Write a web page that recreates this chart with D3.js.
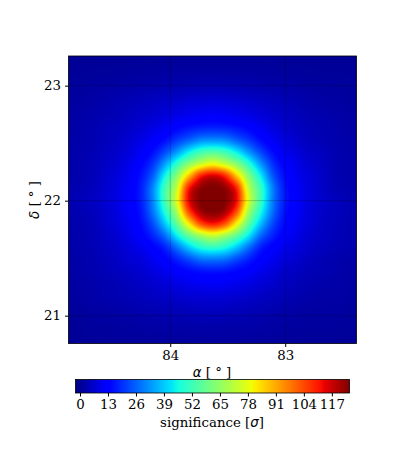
<!DOCTYPE html>
<html>
<head>
<meta charset="utf-8">
<script src="https://cdn.jsdelivr.net/npm/d3@7"></script>
<style>
  body { margin: 0; background: #fff; }
  text { font-family: "DejaVu Serif", serif; fill: #000; }
  .gridline line { stroke: #000; stroke-opacity: 0.25; stroke-width: 0.8; }
</style>
</head>
<body>
<script>
// significance, one row per 12px step, top row first
var sigma = [
  [0.3,0.4,0.5,0.5,0.5,0.6,0.6,0.7,0.7,0.7,0.8,0.8,0.8,0.8,0.8,0.7,0.7,0.7,0.6,0.5,0.5,0.5,0.4,0.3,0.3],
  [0.5,0.6,0.7,0.8,0.9,1,1.1,1.2,1.3,1.3,1.4,1.4,1.4,1.4,1.3,1.3,1.2,1.1,1,0.9,0.8,0.7,0.6,0.6,0.5],
  [0.8,1,1.2,1.3,1.5,1.7,2,2.2,2.4,2.6,2.8,3,3,2.9,2.7,2.5,2.3,2,1.8,1.5,1.3,1.2,1.1,0.9,0.8],
  [1.1,1.4,1.8,2.2,2.6,3,3.4,3.8,4.1,4.4,4.8,5,5.2,5,4.7,4.3,3.9,3.5,3,2.5,2,1.6,1.5,1.2,1],
  [1.5,1.8,2.2,2.8,3.5,4,4.8,5.5,6.2,7,8,8.2,8.5,8.2,7.8,6.8,6,5.2,4.4,3.6,2.9,2.3,1.9,1.6,1.3],
  [1.9,2.2,2.8,3.5,4,5,5.8,7,8,9.5,10.5,11.5,12,11.5,10.5,9.5,8,6.8,5.5,4.5,3.6,3,2.5,2,1.7],
  [2,2.6,3.3,4.2,5,5.8,7.2,8.8,11,13.7,16,17.5,18,17.5,16,13.7,11,8.6,6.8,5.2,4.2,3.5,3,2.3,1.9],
  [2.2,2.7,3.4,4.5,5.5,7,9,11.5,15,20.5,25.5,30.5,31.5,30.5,25.5,20.5,15,11,8.5,6.5,4.8,3.8,3.2,2.5,2],
  [2.4,3,3.7,5,6.2,8,11,15,22.5,32.5,43.5,51.5,54.5,51.5,43.5,32.5,22.5,15,10.5,8,6,5,3.5,2.8,2.2],
  [2.5,3.2,4,5.5,7,9.5,13.5,20,33,49,63,73,79,73,63,49,33,20,13,9.5,7,5.5,3.7,3,2.3],
  [2.6,3.2,4.2,6,8,10.5,15.5,25,44,63,87,109,115.5,109,87,63,44,25,15,10.5,8,6,3.8,3,2.4],
  [2.9,3.6,4.6,6.4,8.4,11.6,17,30,51.5,72,109,123,125.5,123,109,72,51.5,30,16.5,11.5,8.2,6.3,4,3.2,2.5],
  [3.4,4.2,5.2,6.8,8.8,12,17,30,52,76,113,125,126,125,113,76,52,30,17,12,8.5,6.5,5,4,3.2],
  [2.9,3.6,4.6,6.4,8.4,11.6,16,28,46.5,68,103,121,124.5,121,103,68,46.5,28,16,11.5,8.2,6.3,5,4,3.2],
  [2.7,3.3,4.2,6,8,10.5,14.5,23,38,57,81,103,110.5,103,81,57,38,23,14.5,10.5,8,6,4.8,3.8,3],
  [2.5,3.2,4,5.5,7,9.5,12.5,18,27,43,57,67,73,67,57,43,27,18,12.5,9.5,7,5.5,4.5,3.7,3],
  [2.3,3,3.7,5,6.2,8,10,13,17.5,27.5,38.5,46.5,49.5,46.5,38.5,27.5,17.5,13,10,8,6.2,5,4,3.5,2.8],
  [2,2.7,3.4,4.5,5.5,7,8,10.5,13,17.5,22.5,27.5,28.5,27.5,22.5,17.5,13,10.5,8,6.5,5,3.8,3.2,2.5,2],
  [1.8,2.5,3.2,4,4.8,5.6,6.8,8.2,10,12.3,14,15.5,16,15.5,14,12.3,10,8,6.2,5,4,3.5,3,2.3,1.8],
  [1.6,2.1,2.7,3.3,3.8,4.7,5.5,6.6,7.6,9,10,10.9,11.4,10.9,10,9,7.6,6.4,5,4.2,3.4,2.8,2.4,2,1.7],
  [1.3,1.9,2.4,3,3.5,4,4.6,5.3,5.9,6.6,7.4,7.6,7.8,7.6,7.2,6.4,5.6,4.8,4,3.2,2.6,2.3,2.1,1.8,1.5],
  [1,1.4,1.9,2.2,2.6,3,3.4,3.8,4.2,4.6,5,5.3,5.5,5.2,4.9,4.4,4,3.4,2.9,2.3,1.9,1.7,1.7,1.5,1.2],
  [0.7,1,1.4,1.6,1.8,2,2.3,2.6,2.9,3.2,3.4,3.6,3.6,3.5,3.3,3.1,2.8,2.4,2,1.7,1.4,1.4,1.4,1.2,1],
  [0.5,0.7,1,1.1,1.2,1.4,1.6,1.7,1.9,2,2,2.1,2.1,2.1,2,2,1.8,1.6,1.4,1.2,1,1,1,0.9,0.8],
  [0.3,0.5,0.7,0.8,0.9,1,1.1,1.2,1.3,1.3,1.4,1.4,1.4,1.4,1.4,1.3,1.2,1.1,1,0.8,0.7,0.7,0.7,0.6,0.5]
];
var raTicks = [84, 83];
var decTicks = [23, 22, 21];
var raExtent = [84.885, 82.38];
var decExtent = [23.258, 20.758];
var sigmaExtent = [-2.1, 125.2];
var sigmaTicks = [0, 13, 26, 39, 52, 65, 78, 91, 104, 117];

var w = 415;
var h = 467;
var fontSize = "13.33px";
var svg = d3.select("body").append("svg")
  .attr("width", w).attr("height", h)
  .style("display", "block");

var left = 68.5, right = 356.5, top_ = 56, bottom = 343.5;
var x = d3.scaleLinear().domain(raExtent).range([left, right]);
var y = d3.scaleLinear().domain(decExtent).range([top_, bottom]);

// matplotlib jet
var red = d3.scaleLinear().domain([0, .35, .66, .89, 1]).range([0, 0, 1, 1, .5]).clamp(true);
var green = d3.scaleLinear().domain([0, .125, .375, .64, .91, 1]).range([0, 0, 1, 1, 0, 0]).clamp(true);
var blue = d3.scaleLinear().domain([0, .11, .34, .65, 1]).range([.5, 1, 1, 0, 0]).clamp(true);
var norm = d3.scaleLinear().domain(sigmaExtent).range([0, 1]).clamp(true);
function jet(v) {
  var t = norm(v);
  return [red(t) * 255, green(t) * 255, blue(t) * 255];
}

// bicubic display of the grid, like imshow interpolation
function cubic(a, b, c, d, t) {
  return b + 0.5 * t * (c - a + t * (2 * a - 5 * b + 4 * c - d + t * (3 * (b - c) + d - a)));
}
var nRows = sigma.length, nCols = sigma[0].length;
function cell(r, c) {
  return sigma[Math.max(0, Math.min(nRows - 1, r))][Math.max(0, Math.min(nCols - 1, c))];
}
function sample(r, c) {
  var r0 = Math.floor(r), c0 = Math.floor(c);
  var tr = r - r0, tc = c - c0;
  var rows = [-1, 0, 1, 2].map(function(k) {
    return cubic(cell(r0 + k, c0 - 1), cell(r0 + k, c0), cell(r0 + k, c0 + 1), cell(r0 + k, c0 + 2), tc);
  });
  return cubic(rows[0], rows[1], rows[2], rows[3], tr);
}

// paint width x height pixels from a value function, return as data url
function paint(pw, ph, valueAt) {
  var canvas = document.createElement("canvas");
  canvas.width = pw;
  canvas.height = ph;
  var ctx = canvas.getContext("2d");
  var img = ctx.createImageData(pw, ph);
  for (var py = 0; py < ph; py++) {
    for (var px = 0; px < pw; px++) {
      var col = jet(valueAt(px, py));
      var i = (py * pw + px) * 4;
      img.data[i] = col[0];
      img.data[i + 1] = col[1];
      img.data[i + 2] = col[2];
      img.data[i + 3] = 255;
    }
  }
  ctx.putImageData(img, 0, 0);
  return canvas.toDataURL();
}

var pw = Math.round(right - left), ph = Math.round(bottom - top_);
var colIdx = d3.scaleLinear().domain([0, pw]).range([0, nCols - 1]);
var rowIdx = d3.scaleLinear().domain([0, ph]).range([0, nRows - 1]);

svg.append("image")
  .attr("x", left).attr("y", top_)
  .attr("width", right - left).attr("height", bottom - top_)
  .attr("preserveAspectRatio", "none")
  .attr("href", paint(pw, ph, function(px, py) {
    return sample(rowIdx(py + .5), colIdx(px + .5));
  }));

// faint grid lines
svg.append("g").attr("class", "gridline")
  .selectAll("line").data(raTicks).enter().append("line")
  .attr("x1", function(d) { return x(d); })
  .attr("x2", function(d) { return x(d); })
  .attr("y1", top_).attr("y2", bottom);
svg.append("g").attr("class", "gridline")
  .selectAll("line").data(decTicks).enter().append("line")
  .attr("y1", function(d) { return y(d); })
  .attr("y2", function(d) { return y(d); })
  .attr("x1", left).attr("x2", right);

var xAxis = svg.append("g").attr("transform", "translate(0," + bottom + ")")
  .call(d3.axisBottom(x).tickValues(raTicks).tickFormat(d3.format("d")).tickSize(3.5).tickPadding(4));
var yAxis = svg.append("g").attr("transform", "translate(" + left + ",0)")
  .call(d3.axisLeft(y).tickValues(decTicks).tickFormat(d3.format("d")).tickSize(3.5).tickPadding(4));
[xAxis, yAxis].forEach(function(a) {
  a.selectAll("text").style("font-family", '"DejaVu Serif", serif').style("font-size", fontSize);
  a.select(".domain").attr("stroke-width", 0);
});

svg.append("rect")
  .attr("x", left).attr("y", top_)
  .attr("width", right - left).attr("height", bottom - top_)
  .attr("fill", "none").attr("stroke", "#000").attr("stroke-width", .8);

// axis labels
var xLabel = svg.append("text")
  .attr("x", 212).attr("y", 377)
  .attr("text-anchor", "middle").style("font-size", fontSize);
xLabel.append("tspan").style("font-style", "italic").style("font-family", '"DejaVu Sans"').text("α");
xLabel.append("tspan").text(" [ ° ]");

var yLabel = svg.append("text")
  .attr("transform", "translate(39,200) rotate(-90)")
  .attr("text-anchor", "middle").style("font-size", fontSize);
yLabel.append("tspan").style("font-style", "italic").style("font-family", '"DejaVu Sans"').text("δ");
yLabel.append("tspan").text(" [ ° ]");

// colorbar
var barL = 75.5, barR = 349.5, barT = 379.5, barB = 393;
var barX = d3.scaleLinear().domain(sigmaExtent).range([0, 274]);
svg.append("image")
  .attr("x", barL).attr("y", barT)
  .attr("width", barR - barL).attr("height", barB - barT)
  .attr("preserveAspectRatio", "none")
  .attr("href", paint(274, 1, function(px) { return barX.invert(px + .5); }));
svg.append("rect")
  .attr("x", barL).attr("y", barT)
  .attr("width", barR - barL).attr("height", barB - barT)
  .attr("fill", "none").attr("stroke", "#000").attr("stroke-width", .8);

var barAxis = svg.append("g").attr("transform", "translate(" + barL + "," + barB + ")")
  .call(d3.axisBottom(barX).tickValues(sigmaTicks).tickFormat(d3.format("d")).tickSize(3.5).tickPadding(3));
barAxis.select(".domain").attr("stroke-width", 0);
barAxis.selectAll("text").style("font-family", '"DejaVu Serif", serif').style("font-size", fontSize);

var barLabel = svg.append("text")
  .attr("x", 212).attr("y", 427)
  .attr("text-anchor", "middle").style("font-size", fontSize);
barLabel.append("tspan").text("significance [");
barLabel.append("tspan").style("font-style", "italic").style("font-family", '"DejaVu Sans"').text("σ");
barLabel.append("tspan").text("]");
</script>
</body>
</html>
